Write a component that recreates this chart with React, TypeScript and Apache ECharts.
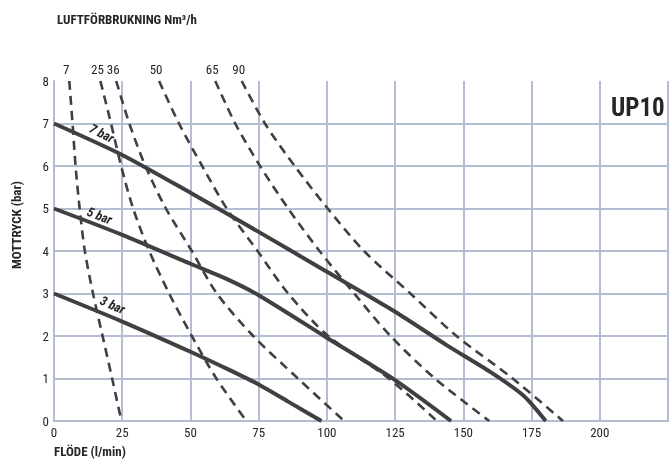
import React, { useEffect, useRef } from 'react';
import * as echarts from 'echarts';

// ---- data ----
const xTickMax = 200;
const pressureNames = ['7 bar', '5 bar', '3 bar'];
const bar7: number[][] = [[0, 7], [25, 6.26], [50, 5.37], [75, 4.45], [100, 3.51], [125, 2.57], [144, 1.78], [160, 1.15], [172, 0.6], [180.2, 0]];
const bar5: number[][] = [[0, 5], [25, 4.38], [50, 3.7], [63, 3.35], [75, 2.96], [100, 1.96], [125, 0.96], [145.5, 0]];
const bar3: number[][] = [[0, 3], [25, 2.34], [50, 1.63], [62, 1.27], [75, 0.86], [86, 0.45], [98, 0]];
const pressureLabelAt: number[][] = [[17.5, 6.77], [16.7, 4.83], [21.5, 2.73]];

const airNames = ['7', '25', '36', '50', '65', '90'];
const air7: number[][] = [[5.6, 8], [6.8, 7], [7.9, 6], [9.4, 5], [11.3, 4], [14.3, 3], [17.8, 2], [21.3, 1], [24.7, 0]];
const air25: number[][] = [[17.0, 8], [20.9, 7], [24.6, 6], [29, 5], [34.9, 4], [42.2, 3], [50.5, 2], [59.5, 1], [70.5, 0]];
const air36: number[][] = [[22.8, 8], [27.6, 7], [33.5, 6], [41, 5], [50.5, 4], [59.7, 3], [73, 2], [89.4, 1], [106.3, 0]];
const air50: number[][] = [[38.5, 8], [45.8, 7], [54.3, 6], [63.3, 5], [74.6, 4], [85.8, 3], [100.5, 2], [122.7, 1], [140.3, 0]];
const air65: number[][] = [[59.1, 8], [66.4, 7], [75.5, 6], [85.8, 5], [97.3, 4], [110, 3], [123.3, 2], [139.6, 1], [159.5, 0]];
const air90: number[][] = [[68.8, 8], [77.3, 7], [88.2, 6], [100.3, 5], [113.6, 4], [130.6, 3], [147.5, 2], [168.1, 1], [186.5, 0]];

const titleText = 'LUFTFÖRBRUKNING Nm³/h';
const xName = 'FLÖDE (l/min)';
const yName = 'MOTTRYCK (bar)';
const modelName = 'UP10';

// ---- style ----
const FONT = "'Liberation Sans Narrow', 'Arial Narrow', 'Roboto Condensed', sans-serif";
const INK = '#404040';
const TEXT = '#262626';
const GRID = '#b3bed3';

export default function App() {
  const ref = useRef<HTMLDivElement>(null);
  useEffect(() => {
    if (!ref.current) return;
    const chart = echarts.init(ref.current, undefined, { renderer: 'svg' });
    const pressureData = [bar7, bar5, bar3];
    const pressureRot = [-27, -21, -24];
    const airData = [air7, air25, air36, air50, air65, air90];

    const solidSeries = pressureData.map((d, i) => ({
      type: 'line',
      name: pressureNames[i],
      data: d,
      symbol: 'none',
      smooth: 0.25,
      z: 4,
      lineStyle: { color: INK, width: 4 },
      markPoint: {
        symbol: 'circle',
        symbolSize: 1,
        itemStyle: { color: 'rgba(0,0,0,0)' },
        label: {
          show: true,
          position: 'inside',
          formatter: pressureNames[i],
          rotate: pressureRot[i],
          color: TEXT,
          fontFamily: FONT,
          fontSize: 13,
          fontWeight: 'bold',
          fontStyle: 'italic',
        },
        data: [{ coord: pressureLabelAt[i] }],
      },
    }));

    const dashedSeries = airData.map((d, i) => ({
      type: 'line',
      name: airNames[i],
      data: d,
      symbol: 'none',
      smooth: 0.3,
      z: 3,
      lineStyle: { color: INK, width: 2.6, type: [9, 6], cap: 'butt' },
      markPoint: {
        symbol: 'circle',
        symbolSize: 1,
        itemStyle: { color: 'rgba(0,0,0,0)' },
        label: {
          show: true,
          position: 'inside',
          offset: [-3, -12],
          formatter: airNames[i],
          color: TEXT,
          fontFamily: FONT,
          fontSize: 13,
        },
        data: [{ coord: d[0] }],
      },
    }));

    const splitColors = [GRID, GRID, GRID, GRID, GRID, GRID, GRID, GRID, 'rgba(0,0,0,0)'];

    chart.setOption({
      animation: false,
      grid: { left: 54, top: 81, width: 619, height: 340, containLabel: false },
      xAxis: {
        type: 'value',
        min: 0,
        max: 225,
        interval: 25,
        axisLine: { show: true, lineStyle: { color: GRID, width: 2 } },
        axisTick: { show: false },
        axisLabel: {
          margin: 5,
          color: TEXT,
          fontFamily: FONT,
          fontSize: 13,
          formatter: (v: number) => (v > xTickMax ? '' : String(v)),
        },
        splitLine: { show: true, lineStyle: { color: GRID, width: 2 } },
      },
      yAxis: {
        type: 'value',
        min: 0,
        max: 8,
        interval: 1,
        axisLine: { show: true, lineStyle: { color: GRID, width: 2 } },
        axisTick: { show: false },
        axisLabel: { margin: 5, color: TEXT, fontFamily: FONT, fontSize: 13 },
        splitLine: { show: true, lineStyle: { color: splitColors, width: 2 } },
      },
      graphic: [
        {
          type: 'text',
          x: 57,
          y: 19,
          style: { text: titleText, fill: TEXT, font: `bold 13px ${FONT}`, verticalAlign: 'middle', align: 'left' },
        },
        {
          type: 'text',
          x: 54,
          y: 451,
          style: { text: xName, fill: TEXT, font: `bold 13px ${FONT}`, verticalAlign: 'middle', align: 'left' },
        },
        {
          type: 'text',
          x: 16,
          y: 225,
          rotation: Math.PI / 2,
          style: { text: yName, fill: TEXT, font: `bold 13px ${FONT}`, verticalAlign: 'middle', align: 'center' },
        },
        {
          type: 'text',
          x: 611,
          y: 107,
          style: { text: modelName, fill: TEXT, font: `bold 25px ${FONT}`, verticalAlign: 'middle', align: 'left' },
        },
      ],
      series: [...dashedSeries, ...solidSeries],
    });
    return () => chart.dispose();
  }, []);
  return <div ref={ref} style={{ position: 'fixed', left: 0, top: 0, width: 671, height: 459 }} />;
}
